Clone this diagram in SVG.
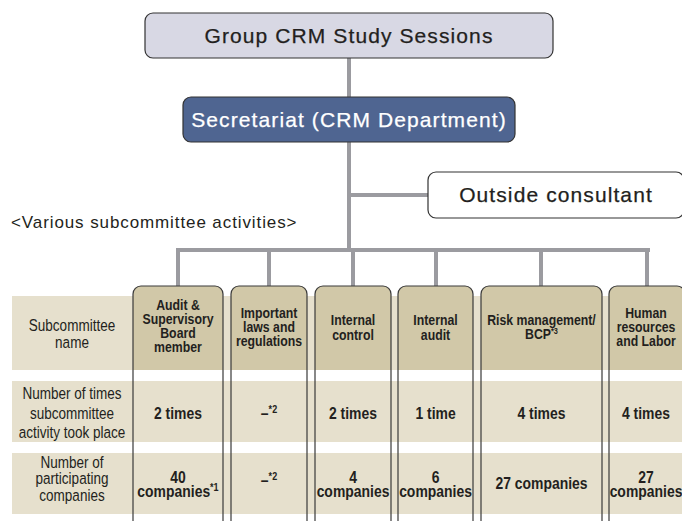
<svg xmlns="http://www.w3.org/2000/svg" width="682" height="521" viewBox="0 0 682 521">
<style>
.con{stroke:#9b9ba0;stroke-width:4;fill:none}
.band{fill:#e6e0cd}
.col{fill:none;stroke:#3a3a3a;stroke-width:1.2}
.hdr{fill:#d1c8a8}
.t{font-family:"Liberation Sans",Arial,sans-serif;fill:#231f20;text-anchor:middle}
.lab{font-size:16.5px}
.h{font-size:15px;font-weight:bold}
.v{font-size:17px;font-weight:bold}
.big{font-family:"Liberation Sans",Arial,sans-serif;font-size:21px;letter-spacing:1.1px;fill:#231f20;text-anchor:middle;stroke:#231f20;stroke-width:0.25}
</style>
<rect x="12" y="296" width="670" height="74" class="band"/>
<rect x="12" y="381" width="670" height="61" class="band"/>
<rect x="12" y="453" width="670" height="61" class="band"/>
<g id="connectors">
<path class="con" d="M349 58V250M349 195H428M176 250H650M178 250V286M269 250V286M353 250V286M436 250V286M541 250V286M647 250V286"/>
</g>
<g id="top">
<rect x="145" y="13" width="408" height="45" rx="8" fill="#d8d8e4" stroke="#333" stroke-width="1.2"/>
<text class="big" x="349" y="43">Group CRM Study Sessions</text>
</g>
<g id="secretariat">
<rect x="183" y="97" width="332" height="45" rx="8" fill="#4f6591" stroke="#333" stroke-width="1.2"/>
<text class="big" x="349" y="127" style="fill:#fff;stroke:#fff">Secretariat (CRM Department)</text>
</g>
<g id="consultant">
<rect x="428" y="172" width="256" height="46" rx="8" fill="#fff" stroke="#333" stroke-width="1.2"/>
<text class="big" x="556" y="202">Outside consultant</text>
</g>
<text x="11" y="228" style="font-family:'Liberation Sans',Arial,sans-serif;font-size:17px;letter-spacing:0.9px;fill:#231f20">&lt;Various subcommittee activities&gt;</text>
<g id="labels" class="t lab" transform="translate(72 0) scale(0.82 1)">
<text x="0" y="331">Subcommittee</text>
<text x="0" y="348">name</text>
<text x="0" y="399">Number of times</text>
<text x="0" y="419">subcommittee</text>
<text x="0" y="438">activity took place</text>
<text x="0" y="468">Number of</text>
<text x="0" y="484">participating</text>
<text x="0" y="501">companies</text>
</g>
<g id="col1">
<path class="hdr" d="M133 370V294a8 8 0 0 1 8-8H215a8 8 0 0 1 8 8V370Z"/>
<path class="col" d="M133 530V294a8 8 0 0 1 8-8H215a8 8 0 0 1 8 8V530"/>
<g transform="translate(178 0) scale(0.82 1)">
<text class="t h" x="0" y="310">Audit &amp;</text>
<text class="t h" x="0" y="324">Supervisory</text>
<text class="t h" x="0" y="338">Board</text>
<text class="t h" x="0" y="352">member</text>
<text class="t v" x="0" y="419">2 times</text>
<text class="t v" x="0" y="483">40</text>
<text class="t v" x="0" y="497">companies<tspan font-size="11" dy="-6">*1</tspan></text>
</g>
</g>
<g id="col2">
<path class="hdr" d="M231 370V294a8 8 0 0 1 8-8H299a8 8 0 0 1 8 8V370Z"/>
<path class="col" d="M231 530V294a8 8 0 0 1 8-8H299a8 8 0 0 1 8 8V530"/>
<g transform="translate(269 0) scale(0.82 1)">
<text class="t h" x="0" y="318">Important</text>
<text class="t h" x="0" y="332">laws and</text>
<text class="t h" x="0" y="346">regulations</text>
<text class="t v" x="0" y="419">–<tspan font-size="11" dy="-6">*2</tspan></text>
<text class="t v" x="0" y="486">–<tspan font-size="11" dy="-6">*2</tspan></text>
</g>
</g>
<g id="col3">
<path class="hdr" d="M315 370V294a8 8 0 0 1 8-8H383a8 8 0 0 1 8 8V370Z"/>
<path class="col" d="M315 530V294a8 8 0 0 1 8-8H383a8 8 0 0 1 8 8V530"/>
<g transform="translate(353 0) scale(0.82 1)">
<text class="t h" x="0" y="325">Internal</text>
<text class="t h" x="0" y="340">control</text>
<text class="t v" x="0" y="419">2 times</text>
<text class="t v" x="0" y="483">4</text>
<text class="t v" x="0" y="497">companies</text>
</g>
</g>
<g id="col4">
<path class="hdr" d="M398 370V294a8 8 0 0 1 8-8H465a8 8 0 0 1 8 8V370Z"/>
<path class="col" d="M398 530V294a8 8 0 0 1 8-8H465a8 8 0 0 1 8 8V530"/>
<g transform="translate(435.5 0) scale(0.82 1)">
<text class="t h" x="0" y="325">Internal</text>
<text class="t h" x="0" y="340">audit</text>
<text class="t v" x="0" y="419">1 time</text>
<text class="t v" x="0" y="483">6</text>
<text class="t v" x="0" y="497">companies</text>
</g>
</g>
<g id="col5">
<path class="hdr" d="M481 370V294a8 8 0 0 1 8-8H594a8 8 0 0 1 8 8V370Z"/>
<path class="col" d="M481 530V294a8 8 0 0 1 8-8H594a8 8 0 0 1 8 8V530"/>
<g transform="translate(541.5 0) scale(0.82 1)">
<text class="t h" x="0" y="325">Risk management/</text>
<text class="t h" x="0" y="339">BCP<tspan font-size="9" dy="-5">*3</tspan></text>
<text class="t v" x="0" y="419">4 times</text>
<text class="t v" x="0" y="489">27 companies</text>
</g>
</g>
<g id="col6">
<path class="hdr" d="M609 370V294a8 8 0 0 1 8-8H677a8 8 0 0 1 8 8V370Z"/>
<path class="col" d="M609 530V294a8 8 0 0 1 8-8H677a8 8 0 0 1 8 8V530"/>
<g transform="translate(646 0) scale(0.82 1)">
<text class="t h" x="0" y="318">Human</text>
<text class="t h" x="0" y="332">resources</text>
<text class="t h" x="0" y="346">and Labor</text>
<text class="t v" x="0" y="419">4 times</text>
<text class="t v" x="0" y="483">27</text>
<text class="t v" x="0" y="497">companies</text>
</g>
</g>
</svg>
